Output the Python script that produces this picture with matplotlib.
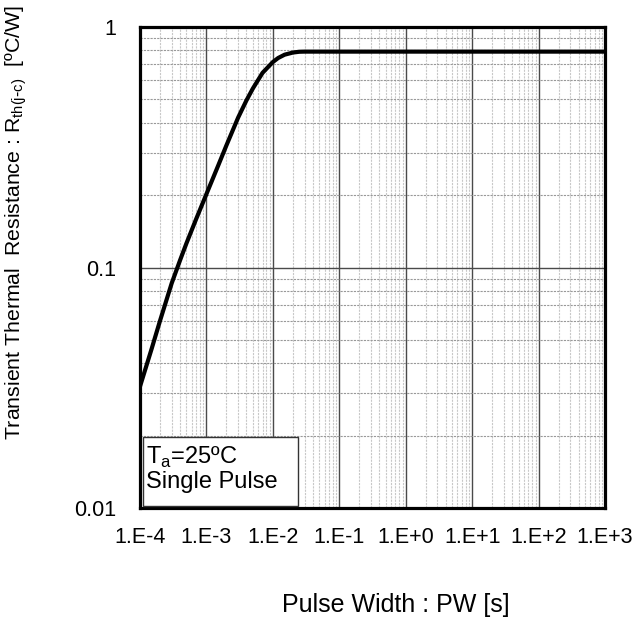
import numpy as np
import matplotlib
matplotlib.use("Agg")
import matplotlib.pyplot as plt
from matplotlib.patches import Rectangle
from matplotlib.ticker import LogLocator, NullFormatter

plt.rcParams['font.family'] = ['Liberation Sans', 'DejaVu Sans']

#########################
# data
#########################
pulse_width = [1e-4, 1.5e-4, 2e-4, 3e-4, 4e-4, 5e-4, 7e-4, 1e-3, 1.5e-3, 2e-3,
               3e-3, 4e-3, 5e-3, 7e-3, 1e-2, 1.2e-2, 1.5e-2, 2e-2, 2.5e-2, 3e-2, 1e3]
rth = [0.032, 0.046, 0.060, 0.086, 0.107, 0.126, 0.159, 0.202, 0.265, 0.322,
       0.42, 0.495, 0.555, 0.645, 0.715, 0.743, 0.767, 0.783, 0.789, 0.79, 0.79]

x_ticks = [1e-4, 1e-3, 1e-2, 1e-1, 1e0, 1e1, 1e2, 1e3]
x_tick_labels = ["1.E-4", "1.E-3", "1.E-2", "1.E-1", "1.E+0", "1.E+1", "1.E+2", "1.E+3"]
y_ticks = [0.01, 0.1, 1]
y_tick_labels = ["0.01", "0.1", "1"]

#########################
# plot
#########################
fig = plt.figure(figsize=(6.34, 6.26), dpi=100)
ax = fig.add_axes([140 / 634, 118 / 626, 465 / 634, 481 / 626])

ax.set_xscale('log')
ax.set_yscale('log')
ax.set_xlim(1e-4, 1e3)
ax.set_ylim(0.01, 1)

ax.xaxis.set_minor_locator(LogLocator(base=10, subs=np.arange(2, 10)))
ax.yaxis.set_minor_locator(LogLocator(base=10, subs=np.arange(2, 10)))
ax.xaxis.set_minor_formatter(NullFormatter())
ax.yaxis.set_minor_formatter(NullFormatter())

ax.grid(which='major', axis='both', color='#4a4a4a', linestyle='-', linewidth=1.0)
ax.grid(which='minor', axis='x', color='#c8c8c8', linestyle=(0, (2, 1)), linewidth=0.8)
ax.grid(which='minor', axis='y', color='#999999', linestyle=(0, (2, 1)), linewidth=0.8)
ax.set_axisbelow(True)

ax.plot(pulse_width, rth, color='black', linewidth=3.0, solid_joinstyle='round')

ax.set_xticks(x_ticks)
ax.set_xticklabels(x_tick_labels)
ax.set_yticks(y_ticks)
ax.set_yticklabels(y_tick_labels)
ax.tick_params(which='both', length=0)
ax.tick_params(axis='x', labelsize=15.5, pad=14)
ax.tick_params(axis='y', labelsize=15.5, pad=17)

for sp in ax.spines.values():
    sp.set_linewidth(2.3)
    sp.set_color('black')

# condition box
ax.add_patch(Rectangle((0.0065, 0.004), 0.334, 0.144, transform=ax.transAxes,
                       facecolor='white', edgecolor='#333333', linewidth=1.0, zorder=5))
ax.text(0.012, 0.131, "T$_\\mathregular{a}$=25ºC\nSingle Pulse", transform=ax.transAxes,
        fontsize=17, va='top', ha='left', linespacing=1.05, zorder=6)

fig.text(396 / 634, 1 - 605 / 626, "Pulse Width : PW [s]", fontsize=18,
         ha='center', va='center')
fig.text(16 / 634, 1 - 223 / 626,
         "Transient Thermal  Resistance : R$_\\mathregular{th(j\\text{-}c)}$  [ºC/W]",
         fontsize=15.3, rotation=90, ha='center', va='center')

plt.savefig("out.png", dpi=100)
